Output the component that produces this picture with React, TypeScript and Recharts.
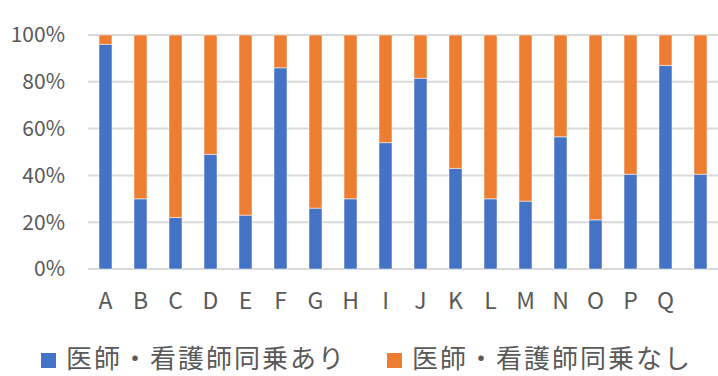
import { Bar, BarChart, CartesianGrid, XAxis, YAxis } from "recharts";

const categories = ["A", "B", "C", "D", "E", "F", "G", "H", "I", "J", "K", "L", "M", "N", "O", "P", "Q", ""];
const withStaff = [96, 30, 22, 49, 23, 86, 26, 30, 54, 81.5, 43, 30, 29, 56.5, 21, 40.5, 87, 40.5];
const withoutStaff = [4, 70, 78, 51, 77, 14, 74, 70, 46, 18.5, 57, 70, 71, 43.5, 79, 59.5, 13, 59.5];
const yTicks = [0, 20, 40, 60, 80, 100];

const seriesNames = ["医師・看護師同乗あり", "医師・看護師同乗なし"];
const colors = ["#4472C4", "#ED7D31"];

const rows = categories.map((name, i) => ({
  name,
  with: withStaff[i],
  without: withoutStaff[i],
}));

const font = '"Noto Sans CJK JP", "Noto Sans", sans-serif';

export default function App() {
  return (
    <div style={{ position: "relative", width: 718, height: 376, fontFamily: font }}>
      <style>{`body{margin:0}`}</style>
      <BarChart
        width={718}
        height={320}
        data={rows}
        margin={{ top: 35, right: 0, bottom: 0, left: 0 }}
        barCategoryGap={0}
      >
        <CartesianGrid vertical={false} stroke="#d9d9d9" strokeWidth={2} />
        <XAxis
          dataKey="name"
          height={51}
          axisLine={false}
          tickLine={false}
          tickSize={0}
          tickMargin={24}
          interval={0}
          tick={{ fontFamily: font, fontSize: 23, fill: "#595959" }}
        />
        <YAxis
          width={88}
          domain={[0, 100]}
          ticks={yTicks}
          tickFormatter={(v) => `${v}%`}
          axisLine={false}
          tickLine={false}
          tickSize={0}
          tickMargin={23}
          tick={{ fontFamily: font, fontSize: 21, fill: "#595959" }}
        />
        <Bar dataKey="with" stackId="s" barSize={13} fill={colors[0]} stroke="#ffffff" strokeWidth={0.5} isAnimationActive={false} />
        <Bar dataKey="without" stackId="s" barSize={13} fill={colors[1]} stroke="#ffffff" strokeWidth={0.5} isAnimationActive={false} />
      </BarChart>
      <div
        style={{
          position: "absolute",
          top: 338,
          left: 41,
          display: "flex",
          alignItems: "center",
          height: 38,
          fontSize: 26,
          lineHeight: "38px",
          letterSpacing: 2,
          color: "#595959",
          whiteSpace: "nowrap",
        }}
      >
        {seriesNames.map((s, i) => (
          <div key={s} style={{ display: "flex", alignItems: "center", marginRight: i === 0 ? 41 : 0 }}>
            <span style={{ display: "inline-block", width: 15, height: 15, background: colors[i], marginRight: 10, marginTop: 6 }} />
            <span>{s}</span>
          </div>
        ))}
      </div>
    </div>
  );
}
